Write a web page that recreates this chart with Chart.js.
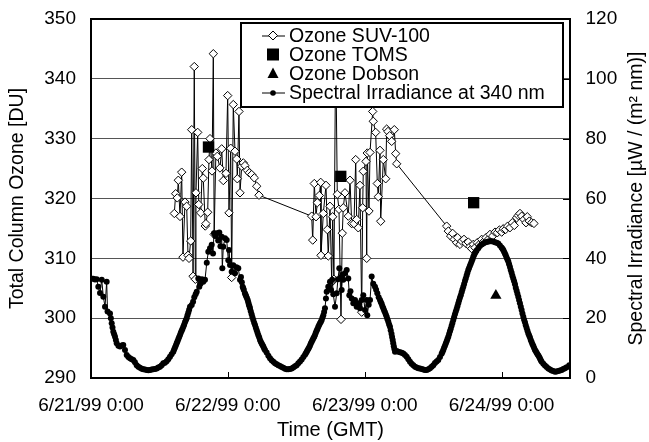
<!DOCTYPE html>
<html><head><meta charset="utf-8">
<script src="https://cdn.jsdelivr.net/npm/chart.js@4.4.0/dist/chart.umd.min.js"></script>
<style>html,body{margin:0;padding:0;background:#fff;overflow:hidden}</style>
</head><body>
<canvas id="c" width="649" height="442"></canvas>
<script>
// hours since 6/21/99 0:00 GMT
const xTickLabels = ['6/21/99 0:00','6/22/99 0:00','6/23/99 0:00','6/24/99 0:00'];
const legendLabels = ['Ozone SUV-100','Ozone TOMS','Ozone Dobson','Spectral Irradiance at 340 nm'];

const suvOzone = [
[14.61,317.5],[14.85,320.8],[15.13,320.1],[15.31,323.05],[15.61,317.0],[15.9,324.4],[16.13,310.2],[16.48,319.4],[16.78,318.7],[17.01,310.5],[17.19,310.0],[17.48,312.9],[17.66,331.5],[17.9,307.0],[18.11,342.05],[18.3,306.5],[18.41,320.95],[18.71,331.05],[18.9,319.0],[19.24,317.6],[19.52,325.0],[19.69,323.4],[20.04,315.4],[20.15,315.8],[20.46,317.7],[20.69,326.5],[20.87,330.0],[21.22,324.6],[21.45,344.2],[21.6,314.0],[21.9,327.6],[22.15,327.05],[22.62,325.1],[22.92,328.3],[23.2,323.0],[23.67,324.2],[23.97,337.2],[24.2,317.6],[24.5,328.4],[24.67,306.8],[24.95,335.7],[25.25,327.9],[25.55,326.6],[25.66,323.3],[25.95,334.55],[26.13,320.95],[26.43,325.4],[26.71,325.95],[27.0,325.5],[27.41,324.7],[27.76,324.3],[28.18,324.0],[28.64,323.45],[29.06,322.05],[29.46,320.55],
[38.70,317.05],[38.88,313.05],[39.16,322.5],[39.46,316.95],[39.68,319.3],[40.03,320.5],[40.28,322.7],[40.33,310.5],[40.74,317.5],[41.21,322.2],[41.44,314.8],[41.61,310.4],[41.91,318.7],[42.21,306.0],[42.38,316.95],[42.6,306.5],[42.91,346.0],[43.19,320.7],[43.49,318.2],[43.84,299.8],[44.07,314.2],[44.24,318.45],[44.54,320.95],[45.12,317.05],[45.42,323.05],[45.72,315.8],[46.12,315.8],[46.42,326.5],[46.59,316.5],[46.87,315.1],[47.17,322.2],[47.47,301.0],[47.64,318.45],[47.75,324.55],[48.22,326.2],[48.35,310.0],[48.45,327.6],[48.75,317.9],[48.93,327.7],[49.40,334.55],[49.50,332.9],[49.92,331.05],[50.21,322.5],[50.38,320.3],[50.68,328.05],[50.80,316.2],[51.26,326.5],[51.68,323.3],[51.85,331.6],[52.08,331.2],[52.38,330.5],[52.73,329.55],[53.19,331.5],[53.43,327.5],[53.61,325.8],
[62.37,315.38],[62.66,314.55],[63.07,313.72],[63.42,314.17],[63.71,313.17],[64.13,312.62],[64.3,313.45],[64.71,312.33],[65.01,312.88],[65.41,313.17],[65.76,312.5],[66.16,312.72],[66.46,311.95],[66.76,311.62],[67.04,312.33],[67.34,311.78],[67.74,312.62],[68.09,312.33],[68.51,313.17],[68.79,312.72],[69.27,313.45],[69.67,313.17],[69.97,314.0],[70.44,313.72],[70.85,314.38],[71.25,314.28],[71.6,314.72],[72.02,314.38],[72.3,314.95],[72.72,314.83],[73.07,315.38],[73.47,315.12],[73.88,315.95],[74.23,315.5],[74.65,316.78],[74.93,317.17],[75.23,317.5],[75.53,317.05],[75.93,316.5],[76.28,315.95],[76.51,316.95],[76.86,316.22],[77.28,315.95],[77.68,315.83]
];
const tomsOzone = [[20.6,328.6],[43.8,323.7],[67.1,319.3]];
const dobsonOzone = [[71.0,303.8]];
const irradiance340 = [
[0.0,33.3],[0.4,33.2],[0.7,32.9],[1.0,33.0],[1.28,30.5],[1.58,28.4],[1.88,32.8],[2.16,27.2],[2.46,23.8],[2.75,32.2],[2.9,22.2],[3.33,21.6],[3.48,20.0],[3.63,18.3],[3.77,16.9],[3.91,15.5],[4.06,14.6],[4.21,13.8],[4.36,12.7],[4.51,11.6],[4.8,10.8],[5.09,10.5],[5.4,10.9],[5.66,11.0],[5.96,9.4],[6.26,7.7],[6.55,7.0],[6.84,6.6],[7.13,6.3],[7.42,6.0],[7.7,5.3],[8.01,4.3],[8.3,3.8],[8.59,3.4],[8.9,3.1],[9.17,2.9],[9.47,2.8],[9.77,2.7],[10.06,2.6],[10.35,2.7],[10.63,2.8],[10.92,2.9],[11.22,3.0],[11.52,3.2],[11.8,3.5],[12.1,3.8],[12.4,4.3],[12.68,4.9],[12.97,5.1],[13.27,5.6],[13.56,6.3],[13.85,7.1],[14.14,7.9],[14.43,8.8],[14.58,9.5],[14.73,10.2],[14.88,10.9],[15.03,11.6],[15.17,12.3],[15.32,13.0],[15.46,13.7],[15.61,14.4],[15.75,15.1],[15.9,15.8],[16.04,16.4],[16.19,17.1],[16.33,17.8],[16.48,18.6],[16.63,19.3],[16.78,20.0],[16.92,21.0],[17.07,21.9],[17.21,22.8],[17.36,23.8],[17.66,24.4],[17.9,25.5],[18.11,27.0],[18.35,28.0],[18.54,28.8],[18.82,33.3],[18.99,30.5],[19.2,31.5],[19.45,33.0],[19.69,32.2],[19.99,32.8],[20.3,38.5],[20.57,42.2],[20.87,43.4],[21.17,44.5],[21.4,41.6],[21.57,48.4],[21.8,47.5],[22.04,48.4],[22.3,46.0],[22.5,48.6],[22.7,44.0],[22.92,47.2],[23.03,36.7],[23.2,43.9],[23.5,46.7],[23.8,46.1],[24.08,39.4],[24.2,42.8],[24.38,37.8],[24.67,35.5],[24.95,37.7],[25.25,35.0],[25.5,37.0],[25.83,36.7],[26.13,32.8],[26.3,33.8],[26.45,32.0],[26.6,30.5],[26.7,30.0],[26.8,29.4],[27.0,28.3],[27.1,27.8],[27.2,27.3],[27.34,26.7],[27.48,26.1],[27.58,25.3],[27.68,24.6],[27.78,24.0],[27.88,23.3],[28.02,22.3],[28.17,21.3],[28.31,20.3],[28.46,19.4],[28.61,18.5],[28.76,17.7],[28.91,16.8],[29.06,16.0],[29.2,15.1],[29.35,14.3],[29.5,13.5],[29.64,12.7],[29.78,12.1],[29.93,11.5],[30.07,11.0],[30.22,10.5],[30.36,9.9],[30.51,9.4],[30.8,8.5],[31.1,7.4],[31.39,6.6],[31.68,5.9],[31.98,5.4],[32.27,4.9],[32.56,4.6],[32.85,4.3],[33.14,4.0],[33.43,3.7],[33.73,3.4],[34.02,3.1],[34.32,2.9],[34.61,2.9],[34.9,3.0],[35.19,3.2],[35.48,3.5],[35.78,3.9],[36.07,4.3],[36.36,4.9],[36.65,5.5],[36.95,6.2],[37.24,7.0],[37.53,7.8],[37.68,8.3],[37.83,8.8],[37.97,9.3],[38.12,9.8],[38.26,10.3],[38.41,10.9],[38.55,11.5],[38.7,12.1],[38.85,12.7],[39.0,13.3],[39.14,13.8],[39.28,14.4],[39.42,15.1],[39.57,15.8],[39.71,16.4],[39.86,17.1],[40.01,17.7],[40.16,18.3],[40.31,18.8],[40.46,19.4],[40.6,20.2],[40.74,21.0],[40.88,22.1],[41.03,23.3],[41.2,26.6],[41.33,28.8],[41.61,30.5],[41.91,32.2],[42.1,29.4],[42.3,32.8],[42.49,28.0],[42.79,23.8],[43.09,28.3],[43.3,33.0],[43.54,36.7],[43.75,33.5],[43.96,29.4],[44.1,34.5],[44.24,32.8],[44.54,35.0],[44.84,36.1],[45.12,33.3],[45.3,27.7],[45.5,29.0],[45.72,26.6],[46.0,25.0],[46.3,26.1],[46.59,23.8],[46.9,25.0],[47.17,23.3],[47.47,26.1],[47.75,27.7],[48.05,22.7],[48.35,26.1],[48.45,21.0],[48.7,24.5],[48.93,26.1],[49.22,33.9],[49.5,31.5],[49.8,30.5],[50.0,29.5],[50.21,28.3],[50.45,27.0],[50.68,26.1],[50.82,25.4],[50.97,24.8],[51.11,24.0],[51.26,23.3],[51.4,22.6],[51.55,22.0],[51.7,21.2],[51.85,20.5],[51.99,19.6],[52.14,18.8],[52.28,17.9],[52.43,17.1],[52.56,16.0],[52.7,14.8],[52.8,13.7],[52.91,12.7],[53.0,11.6],[53.1,10.6],[53.2,9.7],[53.31,8.8],[53.6,9.0],[53.89,8.8],[54.2,8.6],[54.48,8.4],[54.77,8.2],[55.06,7.7],[55.36,7.1],[55.65,6.3],[55.94,5.4],[56.23,4.8],[56.52,4.3],[56.82,3.8],[57.1,3.5],[57.4,3.3],[57.69,3.2],[57.98,3.0],[58.28,2.8],[58.57,2.7],[58.87,2.7],[59.16,2.9],[59.45,3.3],[59.74,3.8],[60.03,4.3],[60.32,5.0],[60.61,5.5],[60.9,6.0],[61.2,7.0],[61.49,8.1],[61.63,8.7],[61.78,9.4],[61.92,10.1],[62.07,10.8],[62.22,11.5],[62.37,12.3],[62.51,13.0],[62.66,13.8],[62.8,14.7],[62.95,15.6],[63.09,16.5],[63.24,17.5],[63.38,18.4],[63.53,19.4],[63.67,20.3],[63.82,21.3],[63.97,22.2],[64.12,23.1],[64.26,24.0],[64.41,25.0],[64.55,25.9],[64.7,26.8],[64.85,27.7],[65.0,28.7],[65.14,29.6],[65.29,30.5],[65.43,31.4],[65.58,32.4],[65.72,33.3],[65.87,34.3],[66.01,35.2],[66.16,36.1],[66.3,36.8],[66.45,37.5],[66.6,38.2],[66.75,38.9],[66.9,39.7],[67.04,40.5],[67.18,41.1],[67.33,41.7],[67.47,42.2],[67.62,42.6],[67.92,43.4],[68.2,44.1],[68.5,44.6],[68.79,45.0],[69.08,45.3],[69.38,45.5],[69.67,45.6],[69.96,45.7],[70.26,45.7],[70.55,45.6],[70.84,45.4],[71.13,45.2],[71.42,45.0],[71.71,44.3],[72.0,43.6],[72.15,43.2],[72.3,42.8],[72.44,42.2],[72.59,41.6],[72.73,41.0],[72.88,40.3],[73.03,39.6],[73.18,38.9],[73.32,38.0],[73.47,37.1],[73.61,36.1],[73.76,35.2],[73.9,34.2],[74.05,33.3],[74.2,32.3],[74.35,31.3],[74.49,30.2],[74.64,29.2],[74.78,28.2],[74.93,27.2],[75.07,26.1],[75.22,25.0],[75.37,23.8],[75.52,22.7],[75.66,21.6],[75.81,20.5],[75.95,19.5],[76.1,18.6],[76.24,17.6],[76.39,16.7],[76.54,15.8],[76.69,14.9],[76.83,14.2],[76.98,13.5],[77.12,12.7],[77.27,12.0],[77.42,11.3],[77.57,10.7],[77.71,10.0],[77.86,9.4],[78.0,8.9],[78.15,8.4],[78.3,7.9],[78.45,7.5],[78.6,7.0],[78.74,6.5],[78.88,5.9],[79.03,5.4],[79.32,4.8],[79.61,4.2],[79.9,3.7],[80.19,3.2],[80.49,2.8],[80.78,2.5],[81.07,2.3],[81.36,2.1],[81.65,2.2],[81.95,2.3],[82.24,2.5],[82.54,2.7],[82.83,3.0],[83.12,3.3],[83.42,3.6],[83.87,4.3]
];

const FONT = "'Liberation Sans', Arial, Helvetica, sans-serif";
const toXY = arr => arr.slice().sort((a, b) => a[0] - b[0]).map(p => ({x: p[0], y: p[1]}));

const framePlugin = {
  id: 'frame',
  afterDatasetsDraw(chart) {
    const {ctx, chartArea: a, scales} = chart;
    ctx.save();
    ctx.strokeStyle = '#000';
    ctx.lineWidth = 1;
    ctx.beginPath();
    [24, 48, 72].forEach(h => {
      const x = Math.round(scales.x.getPixelForValue(h)) + 0.5;
      ctx.moveTo(x, a.bottom); ctx.lineTo(x, a.bottom - 6);
    });
    for (let v = 20; v < 120; v += 20) {
      const y = Math.round(scales.y1.getPixelForValue(v)) + 0.5;
      ctx.moveTo(a.right, y); ctx.lineTo(a.right - 7, y);
    }
    ctx.stroke();
    ctx.lineWidth = 2;
    ctx.strokeRect(a.left, a.top, a.right - a.left, a.bottom - a.top);
    ctx.fillStyle = '#000';
    ctx.font = '19.5px ' + FONT;
    ctx.textAlign = 'center';
    ctx.textBaseline = 'middle';
    ctx.translate(637, (a.top + a.bottom) / 2);
    ctx.rotate(-Math.PI / 2);
    ctx.fillText('Spectral Irradiance [\u00B5W / (m\u00B2 nm)]', 0, 0);
    ctx.restore();

    ctx.save();
    const L = 241, T = 23, R = 563, B = 107;
    ctx.fillStyle = '#fff';
    ctx.fillRect(L, T, R - L, B - T);
    ctx.lineWidth = 2;
    ctx.strokeStyle = '#000';
    ctx.strokeRect(L, T, R - L, B - T);
    const rows = [35.5, 54.5, 73.5, 92.5];
    const mx = 273;
    ctx.lineWidth = 1;
    ctx.beginPath(); ctx.moveTo(262, rows[0] + 0.5); ctx.lineTo(285, rows[0] + 0.5); ctx.stroke();
    ctx.beginPath();
    ctx.moveTo(mx, rows[0] - 4.5); ctx.lineTo(mx + 4.5, rows[0]); ctx.lineTo(mx, rows[0] + 4.5); ctx.lineTo(mx - 4.5, rows[0]); ctx.closePath();
    ctx.fillStyle = '#fff'; ctx.fill(); ctx.stroke();
    ctx.fillStyle = '#000';
    ctx.fillRect(mx - 6, rows[1] - 6, 12, 12);
    ctx.beginPath();
    ctx.moveTo(mx, rows[2] - 6); ctx.lineTo(mx + 5.5, rows[2] + 4.5); ctx.lineTo(mx - 5.5, rows[2] + 4.5); ctx.closePath(); ctx.fill();
    ctx.beginPath(); ctx.moveTo(262, rows[3] + 0.5); ctx.lineTo(285, rows[3] + 0.5); ctx.stroke();
    ctx.beginPath(); ctx.arc(mx, rows[3] + 0.5, 2.8, 0, Math.PI * 2); ctx.fill();
    ctx.font = '19.5px ' + FONT;
    ctx.textAlign = 'left';
    ctx.textBaseline = 'middle';
    legendLabels.forEach((t, i) => ctx.fillText(t, 289, rows[i] + 1));
    ctx.restore();
  }
};

new Chart(document.getElementById('c'), {
  type: 'scatter',
  data: {
    datasets: [
      {label: legendLabels[0], data: toXY(suvOzone), yAxisID: 'y', showLine: true, order: 3,
       borderColor: '#000', borderWidth: 1, pointStyle: 'rectRot', pointRadius: 4.2,
       pointBackgroundColor: '#fff', pointBorderColor: '#000', pointBorderWidth: 1},
      {label: legendLabels[1], data: toXY(tomsOzone), yAxisID: 'y', showLine: false, order: 1,
       pointStyle: 'rect', pointRadius: 8, pointBackgroundColor: '#000', pointBorderColor: '#000', pointBorderWidth: 0},
      {label: legendLabels[2], data: toXY(dobsonOzone), yAxisID: 'y', showLine: false, order: 2,
       pointStyle: 'triangle', pointRadius: 6.5, pointBackgroundColor: '#000', pointBorderColor: '#000', pointBorderWidth: 0},
      {label: legendLabels[3], data: toXY(irradiance340), yAxisID: 'y1', showLine: true, order: 0,
       borderColor: '#000', borderWidth: 1, pointStyle: 'circle', pointRadius: 3,
       pointBackgroundColor: '#000', pointBorderColor: '#000', pointBorderWidth: 0}
    ]
  },
  options: {
    responsive: false,
    animation: false,
    devicePixelRatio: 1,
    layout: {padding: {top: 19, left: 0, right: 0, bottom: 0}},
    plugins: {legend: {display: false}, tooltip: {enabled: false}},
    elements: {line: {tension: 0}},
    scales: {
      x: {
        type: 'linear', position: 'bottom', min: 0, max: 84,
        grid: {display: false, drawTicks: false},
        border: {display: false},
        ticks: {stepSize: 24, autoSkip: false, maxRotation: 0, padding: 16, color: '#000',
                font: {family: FONT, size: 19},
                callback: v => (v % 24 === 0 && v / 24 < xTickLabels.length) ? xTickLabels[v / 24] : ''},
        title: {display: true, text: 'Time (GMT)', color: '#000', font: {family: FONT, size: 20}, padding: {top: 0, bottom: 0}},
        afterFit: s => { s.height = 64; s.paddingLeft = 0; s.paddingRight = 0; }
      },
      y: {
        position: 'left', min: 290, max: 350,
        grid: {color: '#555', lineWidth: 1, drawTicks: false},
        border: {display: false},
        ticks: {stepSize: 10, padding: 15, color: '#000', font: {family: FONT, size: 19}},
        title: {display: true, text: 'Total Column Ozone [DU]', color: '#000', font: {family: FONT, size: 19.5}, padding: {top: 6, bottom: 0}},
        afterFit: s => { s.width = 91; s.paddingTop = 0; s.paddingBottom = 0; }
      },
      y1: {
        position: 'right', min: 0, max: 120,
        grid: {display: false, drawTicks: false},
        border: {display: false},
        ticks: {stepSize: 20, padding: 15.5, color: '#000', font: {family: FONT, size: 19}},
        afterFit: s => { s.width = 79; s.paddingTop = 0; s.paddingBottom = 0; }
      }
    }
  },
  plugins: [framePlugin]
});
</script>
</body></html>
